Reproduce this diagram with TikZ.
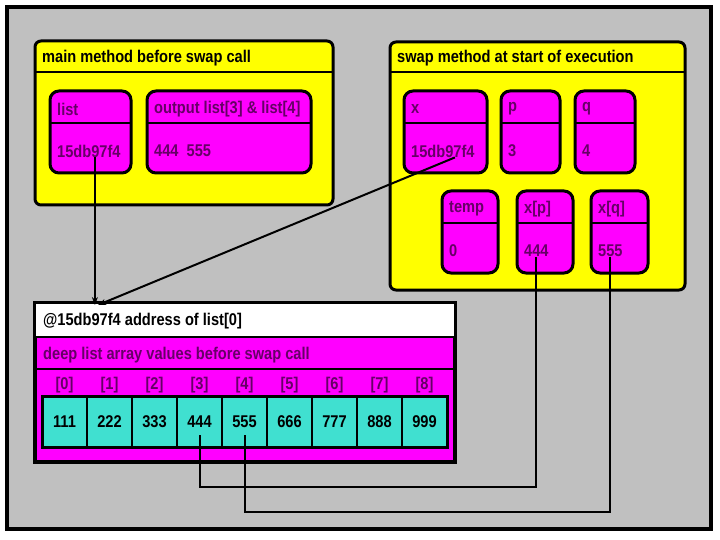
\documentclass[tikz,border=0pt]{standalone}
\usepackage{fontspec}
\setmainfont{Liberation Sans}[FakeStretch=0.86]
\usepackage{xcolor}
\usepackage{tikz}
\usetikzlibrary{positioning, arrows.meta}
\definecolor{frameyellow}{RGB}{255,255,0}
\definecolor{varmagenta}{RGB}{255,0,255}
\definecolor{cellcyan}{RGB}{64,224,208}
\definecolor{bggray}{RGB}{192,192,192}
\definecolor{plum}{RGB}{102,0,102}

\begin{document}
\begin{tikzpicture}[x=1pt, y=-1pt,
  method/.style={draw, line width=3pt, rounded corners=6pt, fill=frameyellow, anchor=north west, inner sep=0pt, outer sep=0pt},
  var/.style={draw, line width=3pt, rounded corners=9pt, fill=varmagenta, anchor=north west, inner sep=0pt, outer sep=0pt, minimum height=82pt},
  divider/.style={line width=2.5pt},
  headtext/.style={anchor=west, inner sep=0pt, font=\bfseries\fontsize{17}{19}\selectfont},
  vartext/.style={headtext, text=plum},
  cell/.style={draw, line width=2pt, fill=cellcyan, minimum width=45pt, minimum height=51pt, inner sep=0pt, outer sep=0pt, font=\bfseries\fontsize{17}{19}\selectfont},
  wire/.style={line width=2pt},
  ptr/.style={line width=2pt, -{Stealth[length=8pt, width=6pt]}}
]
\useasboundingbox (0,0) rectangle (720,540);
\node[draw, line width=4.5pt, fill=bggray, anchor=north west, minimum width=704pt, minimum height=522pt, inner sep=0pt, outer sep=0pt] (page) at (7,7) {};

\node[method, minimum width=298pt, minimum height=164pt] (main) at (35,41) {};
\draw[divider] (main.west |- 0,72) -- (main.east |- 0,72);
\node[headtext] (maintitle) at (42,58) {main method before swap call};

\node[method, minimum width=295pt, minimum height=248pt] (swap) at (390,42) {};
\draw[divider] (swap.west |- 0,72) -- (swap.east |- 0,72);
\node[headtext] (swaptitle) at (397,58) {swap method at start of execution};

\foreach \id/\x/\y/\w/\n/\v in {list/50/91/81pt/list/15db97f4, output/147/91/164pt/output list[3] \& list[4]/444\ \ 555,
    x/404/91/83pt/x/15db97f4, p/501/91/59pt/p/3, q/575/91/60pt/q/4,
    temp/442/191/56pt/temp/0, xp/517/191/56pt/x[p]/444, xq/591/191/57pt/x[q]/555} {
  \node[var, minimum width=\w] (\id) at (\x,\y) {};
  \draw[divider] (\id.west |- 0,\y+32) -- (\id.east |- 0,\y+32);
  \node[vartext] (\id-name) at (\x+7,\y+18) {\n};
  \node[vartext] (\id-val) at (\x+7,\y+60) {\v};
}

\node[draw, line width=3.5pt, fill=varmagenta, anchor=north west, minimum width=420pt, minimum height=159pt, inner sep=0pt, outer sep=0pt] (arr) at (35,303) {};
\node[draw, line width=2.5pt, fill=white, anchor=north west, minimum width=420pt, minimum height=34pt, inner sep=0pt, outer sep=0pt] (addrbox) at (arr.north west) {};
\draw[divider] (arr.west |- 0,369) -- (arr.east |- 0,369);
\node[headtext] (addr) at (43,321) {@15db97f4 address of list[0]};
\node[vartext] (deep) at (43,355) {deep list array values before swap call};

\foreach \v [count=\i from 0] in {111,222,333,444,555,666,777,888,999} {
  \node[vartext, anchor=center] (idx\i) at (64.5+45*\i,385) {[\i]};
  \node[cell] (c\i) at (64.5+45*\i,421.5) {\v};
}
\draw[line width=3pt] (c0.north west) rectangle (c8.south east);

\coordinate (target) at (98,305);
\draw[ptr] ([xshift=6pt]list-val.south) -- ([xshift=6pt]list-val.south |- target);
\draw[ptr] ([xshift=12pt]x-val.south) -- (target);
\draw[wire] (xp-val.south) -- (xp-val.south |- 0,487) -| ([yshift=-13pt]c3.center);
\draw[wire] (xq-val.south) -- (xq-val.south |- 0,512) -| ([yshift=-13pt]c4.center);
\end{tikzpicture}
\end{document}
